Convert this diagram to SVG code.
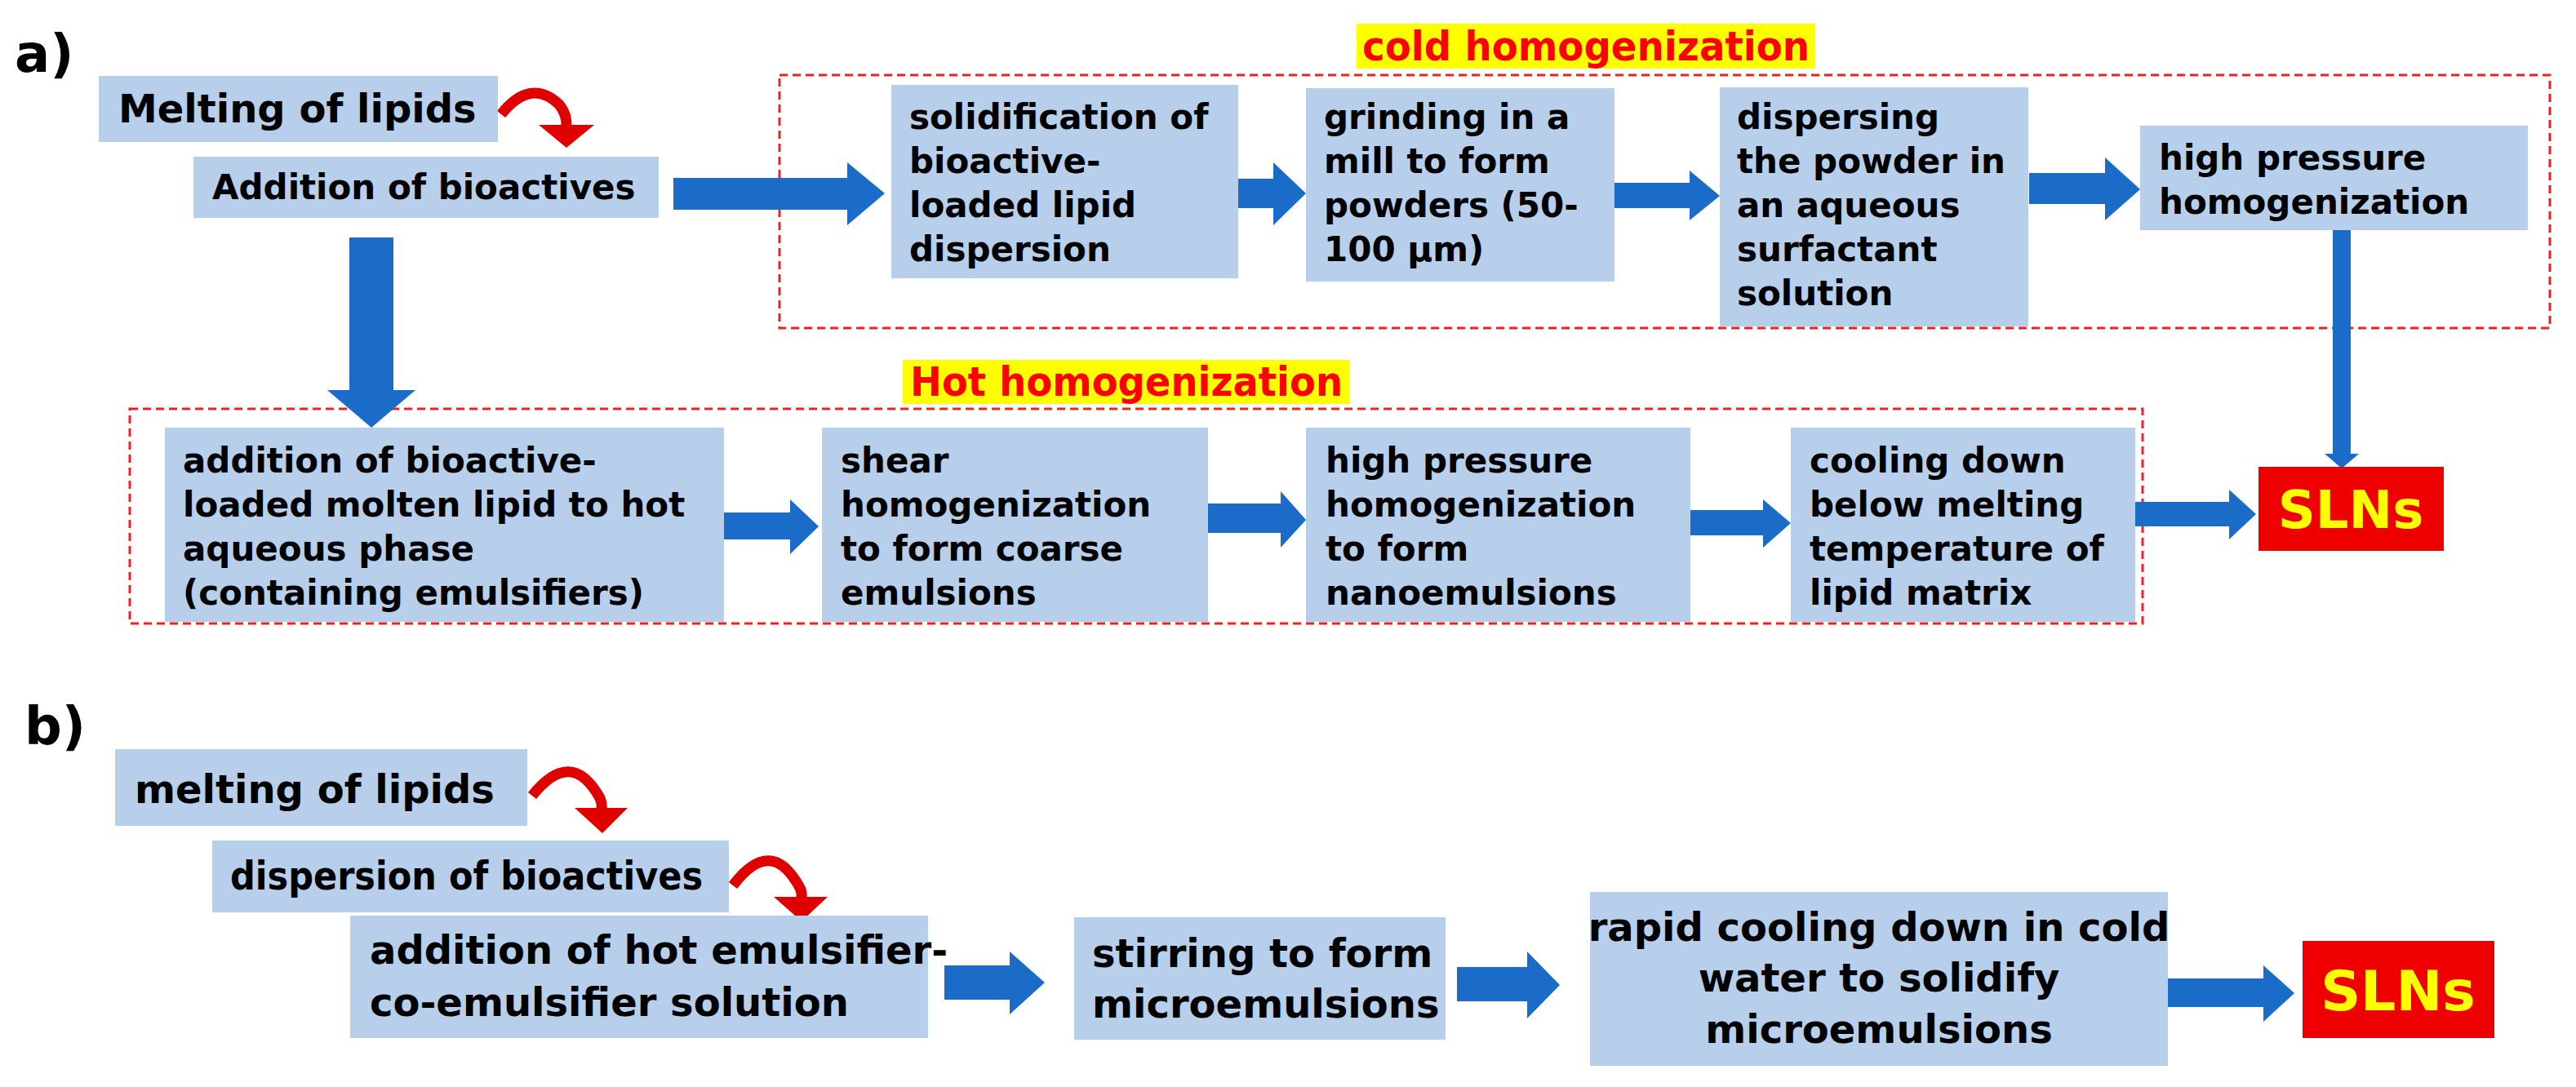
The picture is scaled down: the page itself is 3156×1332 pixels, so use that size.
<svg xmlns="http://www.w3.org/2000/svg" width="3156" height="1332" viewBox="0 0 3156 1332">
<defs>
<style>
.box{fill:#b7cfeb}
.t{font-family:"DejaVu Sans",sans-serif;font-weight:bold;font-size:42px;fill:#000}
.tb{font-family:"DejaVu Sans",sans-serif;font-weight:bold;font-size:48px;fill:#000}
.arr{fill:#1b6cc8}
.dash{fill:none;stroke:#f02020;stroke-width:3;stroke-dasharray:10 6}
.lab{font-family:"DejaVu Sans",sans-serif;font-weight:bold;font-size:50px;fill:#f00}
.hl{fill:#ffff00}
.sln{fill:#ee0000}
.slt{font-family:"DejaVu Sans",sans-serif;font-weight:bold;font-size:64px;fill:#ffff00}
.panel{font-family:"DejaVu Sans",sans-serif;font-weight:bold;font-size:64px;fill:#000}
.red{fill:none;stroke:#e00000;stroke-width:13}
.redh{fill:#e00000}
</style>
</defs>
<rect width="3156" height="1332" fill="#fff"/>
<text class="panel" x="18" y="88">a)</text>
<text class="panel" x="30" y="912">b)</text>

<g id="cold-group">
<rect class="dash" x="955" y="92" width="2169" height="310"/>
<rect class="hl" x="1662" y="29" width="562" height="55"/>
<text class="lab" x="1943" y="74" text-anchor="middle" textLength="548" lengthAdjust="spacingAndGlyphs">cold homogenization</text>
</g>
<g id="hot-group">
<rect class="dash" x="159" y="501" width="2466" height="263"/>
<rect class="hl" x="1106" y="441" width="547" height="54"/>
<text class="lab" x="1380" y="485" text-anchor="middle" textLength="530" lengthAdjust="spacingAndGlyphs">Hot homogenization</text>
</g>

<g id="connectors">
<path class="arr" d="M825 218H1038V199L1084 237L1038 276V257H825Z"/>
<path class="arr" d="M1517 219H1560V199L1600 237L1560 276V255H1517Z"/>
<path class="arr" d="M1978 224H2070V209L2107 240L2070 270V255H1978Z"/>
<path class="arr" d="M2486 212H2579V193L2622 232L2579 270V250H2486Z"/>
<path class="arr" d="M2858 282H2880V556H2890L2869 574L2848 556H2858Z"/>
<path class="arr" d="M428 291H482V478H509L455 524L401 478H428Z"/>
<path class="arr" d="M887 628H968V612L1003 645L968 679V661H887Z"/>
<path class="arr" d="M1480 617H1569V602L1600 637L1569 671V653H1480Z"/>
<path class="arr" d="M2071 625H2160V612L2194 641L2160 671V656H2071Z"/>
<path class="arr" d="M2616 615H2731V600L2764 630L2731 661V645H2616Z"/>
<path class="arr" d="M1157 1183H1237V1166L1280 1204L1237 1243V1225H1157Z"/>
<path class="arr" d="M1785 1185H1871V1166L1911 1207L1871 1248V1227H1785Z"/>
<path class="arr" d="M2656 1199H2773V1183L2811 1217L2773 1252V1234H2656Z"/>
<path class="red" d="M614 140Q650 95 685 128Q695 140 694 156"/>
<path class="redh" d="M660 153H728L694 181Z"/>
<path class="red" d="M652 975Q700 915 735 978Q738 985 737 992"/>
<path class="redh" d="M704 990H769L738 1021Z"/>
<path class="red" d="M898 1085Q945 1023 980 1088Q983 1094 982 1101"/>
<path class="redh" d="M948 1099H1014L982 1129Z"/>
</g>

<g id="n-melt-a"><rect class="box" x="121" y="93" width="489" height="81"/><text class="t" x="145" y="150" style="font-size:48px">Melting of lipids</text></g>
<g id="n-add-a"><rect class="box" x="237" y="192" width="570" height="75"/><text class="t" x="260" y="244">Addition of bioactives</text></g>
<g id="n-solid"><rect class="box" x="1092" y="104" width="425" height="237"/><text class="t" x="1114"><tspan x="1114" y="158">solidification of</tspan><tspan x="1114" y="212">bioactive-</tspan><tspan x="1114" y="266">loaded lipid</tspan><tspan x="1114" y="320">dispersion</tspan></text></g>
<g id="n-grind"><rect class="box" x="1600" y="108" width="378" height="237"/><text class="t"><tspan x="1622" y="158">grinding in a</tspan><tspan x="1622" y="212">mill to form</tspan><tspan x="1622" y="266">powders (50-</tspan><tspan x="1622" y="320">100 μm)</tspan></text></g>
<g id="n-disp"><rect class="box" x="2107" y="107" width="378" height="293"/><text class="t"><tspan x="2128" y="158">dispersing</tspan><tspan x="2128" y="212">the powder in</tspan><tspan x="2128" y="266">an aqueous</tspan><tspan x="2128" y="320">surfactant</tspan><tspan x="2128" y="374">solution</tspan></text></g>
<g id="n-hp1"><rect class="box" x="2622" y="154" width="475" height="128"/><text class="t"><tspan x="2645" y="208">high pressure</tspan><tspan x="2645" y="262">homogenization</tspan></text></g>
<g id="n-addmolten"><rect class="box" x="202" y="524" width="685" height="238"/><text class="t"><tspan x="224" y="579">addition of bioactive-</tspan><tspan x="224" y="633">loaded molten lipid to hot</tspan><tspan x="224" y="687">aqueous phase</tspan><tspan x="224" y="741">(containing emulsifiers)</tspan></text></g>
<g id="n-shear"><rect class="box" x="1007" y="524" width="473" height="238"/><text class="t"><tspan x="1030" y="579">shear</tspan><tspan x="1030" y="633">homogenization</tspan><tspan x="1030" y="687">to form coarse</tspan><tspan x="1030" y="741">emulsions</tspan></text></g>
<g id="n-hp2"><rect class="box" x="1600" y="524" width="471" height="238"/><text class="t"><tspan x="1624" y="579">high pressure</tspan><tspan x="1624" y="633">homogenization</tspan><tspan x="1624" y="687">to form</tspan><tspan x="1624" y="741">nanoemulsions</tspan></text></g>
<g id="n-cool"><rect class="box" x="2194" y="524" width="422" height="238"/><text class="t"><tspan x="2217" y="579">cooling down</tspan><tspan x="2217" y="633">below melting</tspan><tspan x="2217" y="687">temperature of</tspan><tspan x="2217" y="741">lipid matrix</tspan></text></g>
<g id="n-sln-a"><rect class="sln" x="2767" y="572" width="227" height="103"/><text class="slt" x="2880" y="647" text-anchor="middle">SLNs</text></g>

<g id="n-melt-b"><rect class="box" x="141" y="918" width="505" height="94"/><text class="tb" x="165" y="984">melting of lipids</text></g>
<g id="n-disp-b"><rect class="box" x="260" y="1030" width="633" height="88"/><text class="tb" x="282" y="1090" textLength="579" lengthAdjust="spacingAndGlyphs">dispersion of bioactives</text></g>
<g id="n-add-b"><rect class="box" x="429" y="1122" width="708" height="150"/><text class="tb"><tspan x="453" y="1181">addition of hot emulsifier-</tspan><tspan x="453" y="1245">co-emulsifier solution</tspan></text></g>
<g id="n-stir"><rect class="box" x="1316" y="1124" width="455" height="150"/><text class="tb"><tspan x="1338" y="1185">stirring to form</tspan><tspan x="1338" y="1247">microemulsions</tspan></text></g>
<g id="n-rapid"><rect class="box" x="1948" y="1093" width="708" height="213"/><text class="tb" text-anchor="middle"><tspan x="2302" y="1153">rapid cooling down in cold</tspan><tspan x="2302" y="1215">water to solidify</tspan><tspan x="2302" y="1278">microemulsions</tspan></text></g>
<g id="n-sln-b"><rect class="sln" x="2821" y="1153" width="235" height="119"/><text class="slt" x="2938" y="1238" text-anchor="middle" style="font-size:68px">SLNs</text></g>
</svg>
